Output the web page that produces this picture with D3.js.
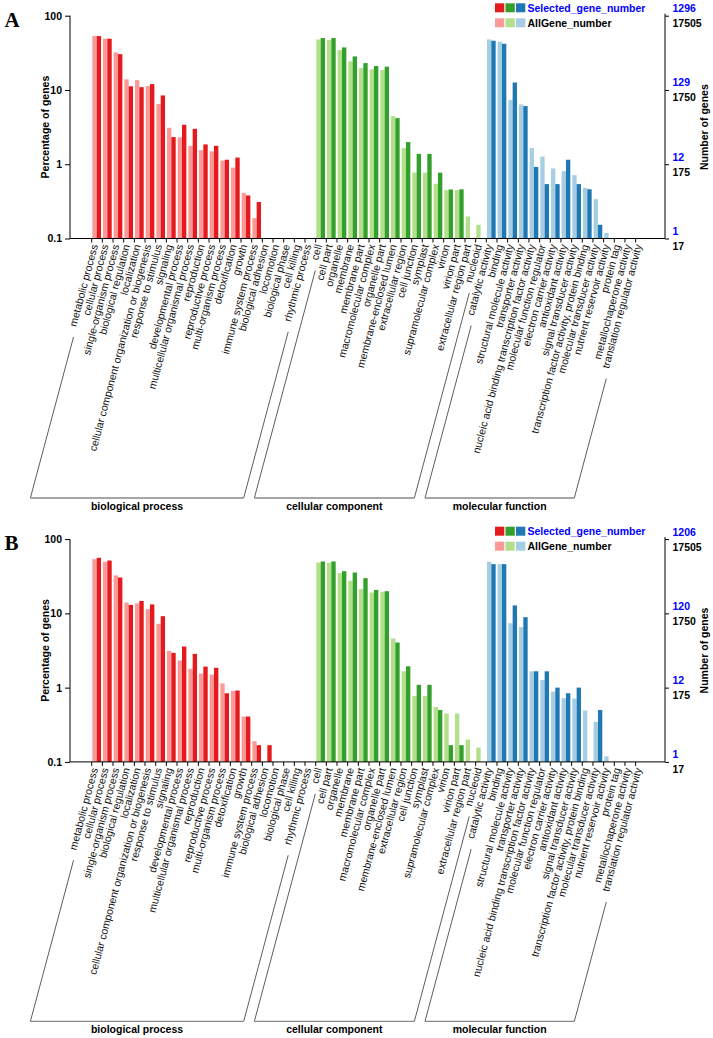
<!DOCTYPE html>
<html><head><meta charset="utf-8">
<script src="https://cdn.jsdelivr.net/npm/d3@7"></script>
<style>body{margin:0;background:#fff} text{font-family:"Liberation Sans",Arial,Helvetica,sans-serif}</style>
</head><body><svg id="c" width="713" height="1038" xmlns="http://www.w3.org/2000/svg"></svg>
<script>
// ---------- data ----------
const bioCats = ["metabolic process","cellular process","single-organism process","biological regulation","localization","cellular component organization or biogenesis","response to stimulus","signaling","developmental process","multicellular organismal process","reproduction","reproductive process","multi-organism process","detoxification","growth","immune system process","biological adhesion","locomotion","biological phase","cell killing","rhythmic process"];
const ccCats = ["cell","cell part","organelle","membrane","membrane part","macromolecular complex","organelle part","membrane-enclosed lumen","extracellular region","cell junction","symplast","supramolecular complex","virion","virion part","extracellular region part","nucleoid"];
const mfCats = ["catalytic activity","binding","structural molecule activity","transporter activity","nucleic acid binding transcription factor activity","molecular function regulator","electron carrier activity","antioxidant activity","signal transducer activity","transcription factor activity, protein binding","molecular transducer activity","nutrient reservoir activity","protein tag","metallochaperone activity","translation regulator activity"];
const groupNames = ["biological process","cellular component","molecular function"];

// percentages (0 = no bar)
const A_all_bio = [53.2,49.0,32.0,13.9,13.6,11.3,6.45,3.10,2.30,1.77,1.55,1.49,1.12,0.90,0.41,0.188,0,0,0,0,0];
const A_sel_bio = [53.2,49.0,30.4,11.2,10.9,12.0,8.44,2.32,3.40,3.00,1.85,1.77,1.15,1.23,0.38,0.31,0,0,0,0,0];
const A_all_cc  = [47.9,46.9,34.4,24.2,19.7,18.9,18.5,4.45,1.65,0.77,0.77,0.545,0.448,0.448,0.198,0.153];
const A_sel_cc  = [50.0,50.0,37.4,28.3,23.0,21.0,20.6,4.18,1.99,1.38,1.38,0.77,0.457,0.46,0,0];
const A_all_mf  = [47.9,44.6,7.30,6.38,1.65,1.27,0.877,0.807,0.713,0.482,0.339,0.119,0,0,0];
const A_sel_mf  = [46.0,41.9,12.6,6.07,0.92,0.54,0.54,1.15,0.54,0.46,0.153,0,0,0,0];

const B_all_bio = [53.7,49.5,32.4,14.0,13.6,11.4,7.23,3.13,2.32,1.79,1.55,1.50,1.14,0.904,0.408,0.19,0,0,0,0,0];
const B_sel_bio = [56.0,51.5,30.4,13.0,14.7,13.2,9.16,2.94,3.58,2.85,1.92,1.85,0.84,0.914,0.408,0.168,0.168,0,0,0,0];
const B_all_cc  = [48.4,48.0,34.8,27.4,21.2,19.1,19.5,4.59,1.66,0.77,0.77,0.55,0.448,0.448,0.20,0.156];
const B_sel_cc  = [50.0,50.0,37.0,35.5,29.8,20.7,19.9,4.05,1.94,1.09,1.09,0.50,0.168,0.168,0,0];
const B_all_mf  = [49.5,46.0,7.38,6.52,1.66,1.27,0.885,0.721,0.713,0.492,0.346,0.119,0,0,0];
const B_sel_mf  = [46.0,46.0,12.8,8.89,1.66,1.66,1.00,0.84,1.00,0,0.50,0,0,0,0];

const pctTicks = [0.1,1,10,100];
const A_selTickLabels = ["1","12","129","1296"];
const B_selTickLabels = ["1","12","120","1206"];
const allTickLabels = ["17","175","1750","17505"];
const legendLabels = ["Selected_gene_number","AllGene_number"];
const selColors = ["#e41a1c","#33a02c","#1f78b4"];
const allColors = ["#fb9a99","#b2df8a","#a6cee3"];

// ---------- drawing ----------
const svg = d3.select("#c");
const groups = [bioCats, ccCats, mfCats];
const cats = [].concat(bioCats, ccCats, mfCats);
const groupOf = c => groups.findIndex(g => g.includes(c));
const ANG = -75, rad = ANG*Math.PI/180;
const dir = [Math.cos(rad), Math.sin(rad)];

function drawPanel(offY, letter, allVals, selVals, selTickLabels){
  const g = svg.append("g").attr("transform", `translate(0,${offY})`);
  const y = d3.scaleLog().domain([0.1,100]).range([238.5,15.7]);
  const x = d3.scaleBand().domain(cats).range([91.7,646.3]).padding(0);
  const bw = x.bandwidth();
  const sub = d3.scaleBand().domain(["all","sel"]).range([bw*0.06, bw*0.875]).padding(0);
  const y0 = y(0.1);

  // bars
  const rows = cats.map((c,i)=>({c, gi: groupOf(c), all: allVals[i], sel: selVals[i]}));
  ["all","sel"].forEach(k=>{
    g.append("g").selectAll("rect").data(rows.filter(r=>r[k]>0)).join("rect")
      .attr("x", r=>x(r.c)+sub(k)).attr("width", sub.bandwidth())
      .attr("y", r=>y(r[k])).attr("height", r=>y0-y(r[k]))
      .attr("fill", r=> k==="all"? allColors[r.gi] : selColors[r.gi]);
  });

  // left axis
  const la = g.append("g").attr("transform","translate(70,0)")
    .call(d3.axisLeft(y).tickValues(pctTicks).tickFormat(d=>String(d)).tickSize(5).tickPadding(3));
  la.select(".domain").attr("d", `M0,${y(100)}V${y0}`).attr("stroke","#000");
  la.selectAll("text").attr("font-size",10.5).attr("font-weight","bold").attr("fill","#000");

  // right axis
  const ra = g.append("g").attr("transform","translate(665,0)")
    .call(d3.axisRight(y).tickValues(pctTicks).tickFormat("").tickSize(4));
  ra.select(".domain").attr("d", `M0,${y(100)-2}V${y0}`).attr("stroke","#000");
  pctTicks.forEach((t,i)=>{
    ra.append("text").attr("x",7.5).attr("y",y(t)-3.5).attr("font-size",10.5).attr("font-weight","bold").attr("fill","#0000ff").text(selTickLabels[i]);
    ra.append("text").attr("x",7.5).attr("y",y(t)+11.5).attr("font-size",10.5).attr("font-weight","bold").attr("fill","#000").text(allTickLabels[i]);
  });

  // bottom axis
  g.append("line").attr("x1",70).attr("x2",665).attr("y1",y0).attr("y2",y0).attr("stroke","#000");
  g.append("g").selectAll("line").data(cats).join("line")
    .attr("x1",c=>x(c)).attr("x2",c=>x(c)).attr("y1",y0).attr("y2",y0+4).attr("stroke","#000");

  // category labels
  const lab = g.append("g").selectAll("text").data(cats).join("text")
    .attr("transform", c=>`translate(${x(c)+bw/2+1},${y0+7}) rotate(${ANG})`)
    .attr("text-anchor","end").attr("font-size",10.5).attr("fill","#111").text(c=>c);
  const ends = {};
  lab.each(function(c){
    const L = this.getComputedTextLength();
    const ax = x(c)+bw/2+1, ay = y0+7;
    ends[c] = [ax - L*dir[0], ay - L*dir[1]];
  });

  // group brackets
  const yb = 498, gap = 10;
  groups.forEach((grp, gi)=>{
    const pts = [grp[0], grp[grp.length-1]].map(c=>{
      const [sx, sy] = ends[c];
      const tx = sx - gap*dir[0], ty = sy - gap*dir[1];
      const bx = sx - (yb - sy) * (dir[0] / -dir[1]);
      return {tx, ty, bx};
    });
    pts.forEach(p=>{
      g.append("line").attr("x1",p.tx).attr("y1",p.ty).attr("x2",p.bx).attr("y2",yb)
        .attr("stroke","#333").attr("stroke-width",0.8);
    });
    g.append("line").attr("x1",pts[0].bx).attr("x2",pts[1].bx).attr("y1",yb).attr("y2",yb)
      .attr("stroke","#888").attr("stroke-width",1.4);
    g.append("text").attr("x",(pts[0].bx+pts[1].bx)/2).attr("y",yb+11.5).attr("text-anchor","middle")
      .attr("font-size",10.5).attr("font-weight","bold").attr("fill","#000").text(groupNames[gi]);
  });

  // axis titles
  g.append("text").attr("transform",`translate(48.5,${(y(100)+y0)/2}) rotate(-90)`).attr("text-anchor","middle")
    .attr("font-size",10.5).attr("font-weight","bold").text("Percentage of genes");
  g.append("text").attr("transform",`translate(708,${(y(100)+y0)/2}) rotate(-90)`).attr("text-anchor","middle")
    .attr("font-size",10.5).attr("font-weight","bold").text("Number of genes");

  // legend
  const lg = g.append("g");
  [selColors, allColors].forEach((cols, r)=>{
    cols.forEach((col,j)=>{
      lg.append("rect").attr("x",495+j*10.5).attr("y",3.3+r*15).attr("width",9.3).attr("height",9).attr("fill",col);
    });
    lg.append("text").attr("x",527.5).attr("y",11.6+r*15).attr("font-size",10.5).attr("font-weight","bold")
      .attr("fill", r===0? "#0000ff":"#000").text(legendLabels[r]);
  });

  // panel letter
  g.append("text").attr("x",4.5).attr("y",26.7)
    .style("font-family","'Liberation Serif','Times New Roman',serif")
    .attr("font-size",21).attr("font-weight","bold").text(letter);
}

drawPanel(0, "A", [].concat(A_all_bio,A_all_cc,A_all_mf), [].concat(A_sel_bio,A_sel_cc,A_sel_mf), A_selTickLabels);
drawPanel(523.4, "B", [].concat(B_all_bio,B_all_cc,B_all_mf), [].concat(B_sel_bio,B_sel_cc,B_sel_mf), B_selTickLabels);
</script></body></html>
